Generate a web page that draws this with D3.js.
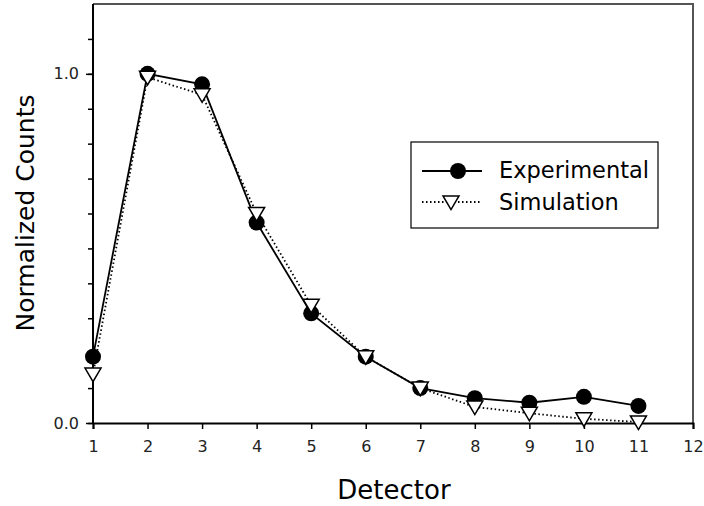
<!DOCTYPE html>
<html><head><meta charset="utf-8">
<script src="https://cdn.jsdelivr.net/npm/d3@7"></script>
<style>body{margin:0;background:#fff}svg{display:block}text{font-family:"DejaVu Sans",sans-serif}</style>
</head><body><svg id="c" width="704" height="506"></svg>
<script>
const detectors = [1,2,3,4,5,6,7,8,9,10,11];
const experimental = [0.19,1.0,0.97,0.574,0.314,0.19,0.10,0.071,0.058,0.075,0.049];
const simulation = [0.14,0.99,0.94,0.60,0.337,0.19,0.10,0.046,0.028,0.012,0.003];
const xTicks = [1,2,3,4,5,6,7,8,9,10,11,12];
const yLabels = [0.0, 1.0];
const seriesNames = ["Experimental","Simulation"];

const FONT = "DejaVu Sans, sans-serif";
const svg = d3.select("#c");
const L=93,R=693,T=4,B=423;
const x = d3.scaleLinear().domain([1,12]).range([L,R]);
const y = d3.scaleLinear().domain([0,1.2]).range([B,T]);

// frame top/right
svg.append("path").attr("d",`M${L},${T}H${R}V${B}`).attr("fill","none").attr("stroke","#555").attr("stroke-width",2);

// x axis
const xa = svg.append("g").attr("transform",`translate(0,${B})`)
  .call(d3.axisBottom(x).tickValues(xTicks).tickSize(6).tickPadding(12).tickFormat(d3.format("d")));
xa.select(".domain").attr("stroke","#000").attr("stroke-width",2);
xa.selectAll(".tick line").attr("stroke-width",1.5);
xa.selectAll("text").attr("font-size",16).attr("fill","#222").attr("font-family",FONT);

// y axis minor ticks
const ya = svg.append("g").attr("transform",`translate(${L},0)`)
  .call(d3.axisLeft(y).tickValues(d3.range(0,12).map(i=>i/10)).tickSize(5).tickFormat(""));
ya.select(".domain").attr("stroke","#000").attr("stroke-width",2).attr("d",`M0,${B}V${T}`);
ya.selectAll(".tick line").attr("stroke-width",1.5);
const yb = svg.append("g").attr("transform",`translate(${L},0)`)
  .call(d3.axisLeft(y).tickValues(yLabels).tickSize(7).tickPadding(7).tickFormat(d3.format(".1f")));
yb.select(".domain").remove();
yb.selectAll(".tick line").attr("stroke-width",1.5);
yb.selectAll("text").attr("font-size",16).attr("fill","#222").attr("font-family",FONT);

const line = d3.line().x((d,i)=>x(detectors[i])).y(d=>y(d));
svg.append("path").datum(experimental).attr("d",line).attr("fill","none").attr("stroke","#000").attr("stroke-width",1.8);
svg.append("path").datum(simulation).attr("d",line).attr("fill","none").attr("stroke","#000").attr("stroke-width",1.8).attr("stroke-dasharray","1.5,2.5");

svg.selectAll("circle.e").data(experimental).enter().append("circle")
  .attr("cx",(d,i)=>x(detectors[i])).attr("cy",d=>y(d)).attr("r",8).attr("fill","#000");
const tri = (cx,cy,s)=>`M${cx-s},${cy-s*0.75}L${cx+s},${cy-s*0.75}L${cx},${cy+s*0.95}Z`;
svg.selectAll("path.s").data(simulation).enter().append("path")
  .attr("d",(d,i)=>tri(x(detectors[i]),y(d),8)).attr("fill","#fff").attr("stroke","#000").attr("stroke-width",1.5);

// legend
const lg = svg.append("g");
lg.append("rect").attr("x",411).attr("y",142).attr("width",247).attr("height",86).attr("fill","#fff").attr("stroke","#000").attr("stroke-width",1.2);
lg.append("line").attr("x1",422).attr("x2",482).attr("y1",171).attr("y2",171).attr("stroke","#000").attr("stroke-width",1.8);
lg.append("circle").attr("cx",458).attr("cy",171).attr("r",8).attr("fill","#000");
lg.append("line").attr("x1",422).attr("x2",482).attr("y1",202).attr("y2",202).attr("stroke","#000").attr("stroke-width",1.8).attr("stroke-dasharray","1.5,2.5");
lg.append("path").attr("d",tri(451,202,8)).attr("fill","#fff").attr("stroke","#000").attr("stroke-width",1.5);
lg.append("text").attr("x",499).attr("y",178).attr("font-size",22.5).text(seriesNames[0]);
lg.append("text").attr("x",499).attr("y",210).attr("font-size",22.5).text(seriesNames[1]);

// axis titles
svg.append("text").attr("x",394).attr("y",499).attr("text-anchor","middle").attr("font-size",26).text("Detector");
svg.append("text").attr("transform","translate(34,213) rotate(-90)").attr("text-anchor","middle").attr("font-size",25).text("Normalized Counts");
</script></body></html>
